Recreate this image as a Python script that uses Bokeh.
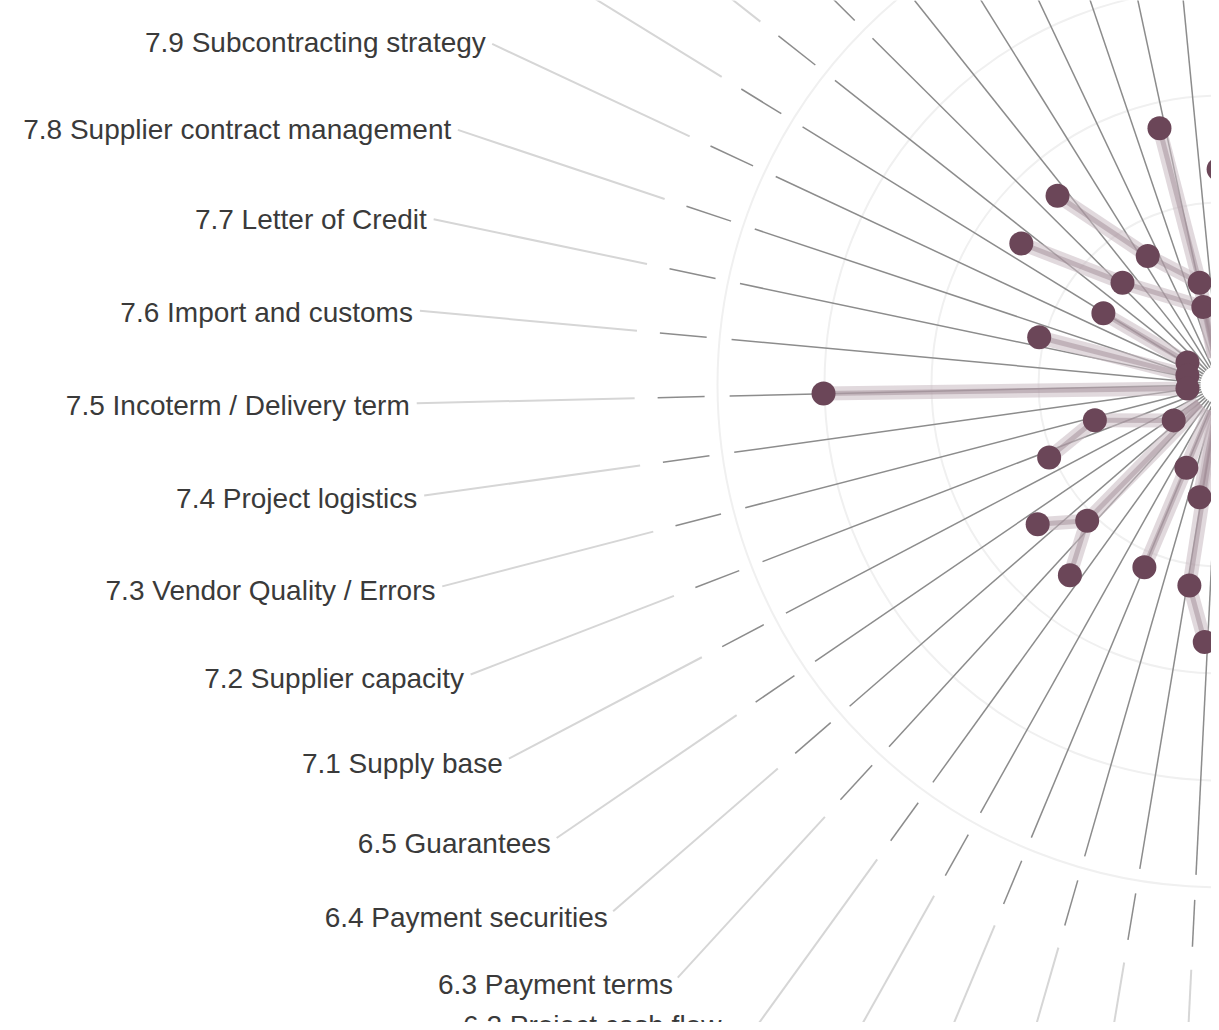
import math
from bokeh.plotting import figure
from bokeh.models import Range1d
from bokeh.embed import file_html
from bokeh.resources import INLINE
from bokeh.core.properties import value

# ---------------- data ----------------
labels = ["7.9 Subcontracting strategy", "7.8 Supplier contract management",
          "7.7 Letter of Credit", "7.6 Import and customs",
          "7.5 Incoterm / Delivery term", "7.4 Project logistics",
          "7.3 Vendor Quality / Errors", "7.2 Supplier capacity",
          "7.1 Supply base", "6.5 Guarantees", "6.4 Payment securities",
          "6.3 Payment terms", "6.2 Project cash flow"]
label_slot = [-4, -3, -2, -1, 0, 1, 2, 3, 4, 5, 6, 7, 8]
spoke_slot = list(range(-14, 14))

# points: angle (deg below the left horizontal) and value (radial units)
pt_angle = [-76.6, -89.5, -49.2, -35.3, -60.5, -46.1, -78.4, -77.5, -31.3, -14.6,
            -33.7, -15.3, 6.9, 1.3, 15.9, 37.5, 23.1, 67.7, 79.5, 37.4,
            45.6, 67.4, 51.7, 81.2, 86.5]
pt_value = [1.76, 1.31, 1.63, 1.58, 0.68, 0.62, 0.27, 0.04, 0.58, 1.05,
            -0.33, -0.38, -0.39, 3.01, 0.52, -0.15, 1.04, 0.14, 0.37, 1.45,
            1.08, 1.15, 1.57, 1.2, 1.71]
# trail of each point: index of the point it comes from (-1 = from the centre)
pt_from = [6, -1, 4, 5, 6, 7, -1, -1, 10, 11,
           -1, -1, -1, 12, 15, -1, 14, -1, -1, 20,
           -1, 17, 20, -1, 23]

# ---------------- geometry ----------------
CX, CY = 1221.0, 384.0
STEP, A0 = 6.6, 1.34
R0, UNIT = 75.0, 107.0
R_SOLID, DASH_IN, DASH_OUT = 491.0, 516.0, 563.0
LEAD_IN, LEAD_OUT, R_LABEL = 586.0, 804.0, 811.0

def pol(a_deg, r):
    a = math.radians(a_deg)
    return -r * math.cos(a), -r * math.sin(a)

def pos(slot, r):
    return pol(A0 + STEP * slot, r)

W, H = 1211, 1022
p = figure(width=W, height=H, output_backend="svg", toolbar_location=None,
           x_range=Range1d(1 - CX, 1 - CX + W), y_range=Range1d(CY - H, CY),
           min_border=0, outline_line_color=None)
p.axis.visible = False
p.grid.visible = False

for k in range(1, 5):
    p.circle(x=[0], y=[0], radius=R0 + UNIT * k, fill_color=None,
             line_color="#f0f0f0", line_width=2)

xs, ys, xs2, ys2, xs3, ys3 = [], [], [], [], [], []
for s in spoke_slot:
    a, b = pos(s, 20); c, d = pos(s, R_SOLID)
    xs.append([a, c]); ys.append([b, d])
    a, b = pos(s, DASH_IN); c, d = pos(s, DASH_OUT)
    xs2.append([a, c]); ys2.append([b, d])
    a, b = pos(s, LEAD_IN); c, d = pos(s, LEAD_OUT)
    xs3.append([a, c]); ys3.append([b, d])
p.multi_line(xs3, ys3, line_color="#d6d6d6", line_width=2)
p.multi_line(xs, ys, line_color="#8c8c8c", line_width=1.5)
p.multi_line(xs2, ys2, line_color="#8c8c8c", line_width=1.5)

px = [pol(a, R0 + UNIT * v)[0] for a, v in zip(pt_angle, pt_value)]
py = [pol(a, R0 + UNIT * v)[1] for a, v in zip(pt_angle, pt_value)]

# trails
bx, by = [], []
for i, f in enumerate(pt_from):
    if f < 0:
        a, b = pol(pt_angle[i], 28)
    else:
        a, b = px[f], py[f]
    bx.append([a, px[i]]); by.append([b, py[i]])
p.multi_line(bx, by, line_color="#c9b9c1", line_alpha=0.55, line_width=14)
p.multi_line(bx, by, line_color="#9c8590", line_alpha=0.45, line_width=5)

p.scatter(px, py, size=24, fill_color="#6b4658", line_color=None)

tx = [pos(s, R_LABEL)[0] for s in label_slot]
ty = [pos(s, R_LABEL)[1] for s in label_slot]
xoff = [0] * (len(label_slot) - 1) + [-24]
yoff = [2] * (len(label_slot) - 1) + [-16]
p.text(tx, ty, text=labels, x_offset=xoff, y_offset=yoff, text_align="right",
       text_baseline="middle", text_font=value("Liberation Sans"),
       text_font_size="28px", text_color="#3a3a3a")

open("out.html", "w").write(file_html(p, INLINE))
